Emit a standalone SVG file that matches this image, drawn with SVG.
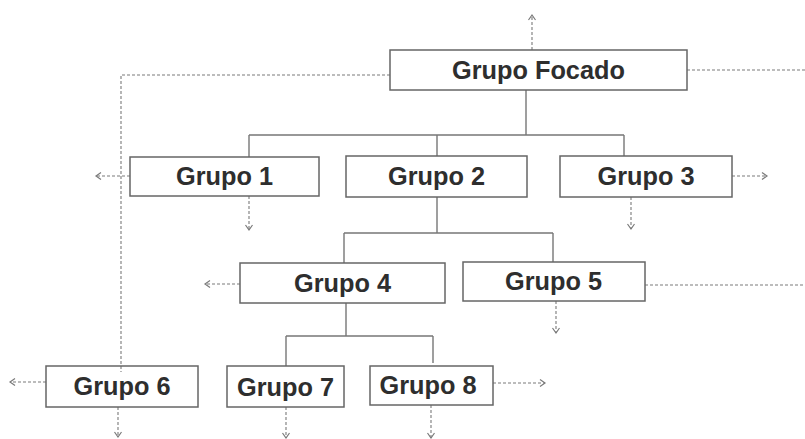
<svg xmlns="http://www.w3.org/2000/svg" width="805" height="439" viewBox="0 0 805 439">
<style>
.box{fill:none;stroke:#666;stroke-width:1.5}
.lbl{font-family:"Liberation Sans",Arial,sans-serif;font-weight:bold;font-size:25.3px;fill:#2e2e2e;text-anchor:middle}
.solid{fill:none;stroke:#777;stroke-width:1.4}
.dash{fill:none;stroke:#7a7a7a;stroke-width:1.1;stroke-dasharray:3 2}
.arr{marker-end:url(#ah)}
</style>
<defs>
<marker id="ah" markerUnits="userSpaceOnUse" markerWidth="10" markerHeight="10" refX="6" refY="4" orient="auto">
<path d="M1,0.5 L6,4 L1,7.5" fill="none" stroke="#7a7a7a" stroke-width="1.2"/>
</marker>
</defs>
<rect width="805" height="439" fill="#fff"/>
<g id="connectors">
<path class="solid" d="M526,90 V135 M249,135 H624 M249,135 V157 M437,135 V156 M624,135 V156"/>
<path class="solid" d="M437,197 V233 M344,233 H553 M344,233 V263 M553,233 V262"/>
<path class="solid" d="M346,303 V336 M286,336 H433 M286,336 V366 M433,336 V363"/>
<path class="dash arr" d="M532,50 V15"/>
<path class="dash" d="M687,70 H805"/>
<path class="dash" d="M390,75 H121 V372"/>
<path class="dash arr" d="M118,407 V437"/>
<path class="dash arr" d="M130,176 H96"/>
<path class="dash arr" d="M249,196 V230"/>
<path class="dash arr" d="M732,176 H767"/>
<path class="dash arr" d="M631,197 V229"/>
<path class="dash arr" d="M240,284 H205"/>
<path class="dash" d="M645,285 H805"/>
<path class="dash arr" d="M556,301 V333"/>
<path class="dash arr" d="M46,382 H10"/>
<path class="dash arr" d="M286,407 V438"/>
<path class="dash arr" d="M431,405 V438"/>
<path class="dash arr" d="M493,383 H545"/>
</g>
<g id="grupo-focado"><rect class="box" x="390" y="50" width="297" height="40"/><text class="lbl" x="538.5" y="79">Grupo Focado</text></g>
<g id="grupo-1"><rect class="box" x="130" y="157" width="189" height="39"/><text class="lbl" x="224.5" y="185">Grupo 1</text></g>
<g id="grupo-2"><rect class="box" x="346" y="156" width="181" height="41"/><text class="lbl" x="436.5" y="185">Grupo 2</text></g>
<g id="grupo-3"><rect class="box" x="560" y="156" width="172" height="41"/><text class="lbl" x="646" y="185">Grupo 3</text></g>
<g id="grupo-4"><rect class="box" x="240" y="263" width="205" height="40"/><text class="lbl" x="342.5" y="292">Grupo 4</text></g>
<g id="grupo-5"><rect class="box" x="463" y="262" width="182" height="39"/><text class="lbl" x="553.5" y="290">Grupo 5</text></g>
<g id="grupo-6"><rect class="box" x="46" y="366" width="152" height="41"/><text class="lbl" x="122" y="395">Grupo 6</text></g>
<g id="grupo-7"><rect class="box" x="227" y="366" width="117" height="41"/><text class="lbl" x="285.5" y="396">Grupo 7</text></g>
<g id="grupo-8"><rect class="box" x="370" y="366" width="123" height="39"/><text class="lbl" x="428" y="394">Grupo 8</text></g>
</svg>
